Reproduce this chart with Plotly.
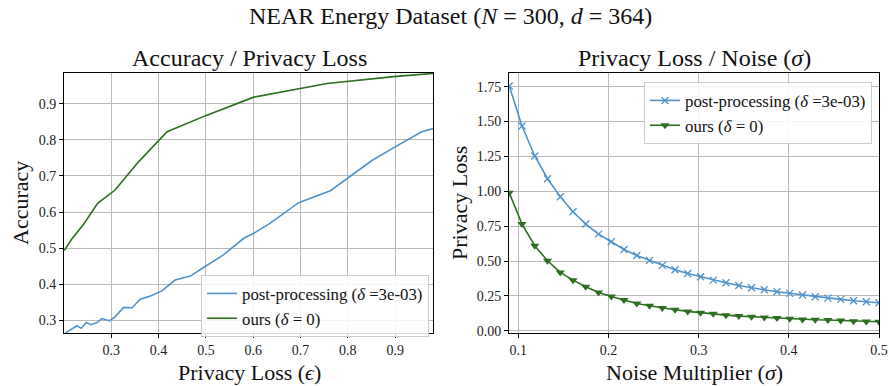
import plotly.graph_objects as go

# ---------------- data ----------------
# Left panel: Accuracy vs privacy loss (epsilon)
eps_ours = [0.2007, 0.217, 0.2415, 0.271, 0.308, 0.358, 0.418, 0.502, 0.601, 0.699, 0.756, 0.897, 0.981]
acc_ours = [0.493, 0.526, 0.566, 0.624, 0.661, 0.740, 0.823, 0.869, 0.919, 0.944, 0.957, 0.976, 0.985]

eps_post = [0.2007, 0.2148, 0.2275, 0.2366, 0.247, 0.257, 0.270, 0.280, 0.296, 0.308, 0.326, 0.344,
            0.361, 0.379, 0.407, 0.435, 0.467, 0.495, 0.537, 0.580, 0.601, 0.636, 0.696, 0.763,
            0.812, 0.851, 0.900, 0.956, 0.981]
acc_post = [0.262, 0.274, 0.284, 0.277, 0.293, 0.287, 0.293, 0.304, 0.298, 0.309, 0.335, 0.334,
            0.358, 0.365, 0.381, 0.411, 0.422, 0.446, 0.481, 0.527, 0.541, 0.569, 0.626, 0.659,
            0.707, 0.743, 0.781, 0.823, 0.832]

# Right panel: privacy loss vs noise multiplier (sigma)
sigma = [0.09, 0.1041, 0.1183, 0.1324, 0.1466, 0.1607, 0.1748, 0.1890, 0.2031, 0.2172,
         0.2314, 0.2455, 0.2597, 0.2738, 0.2879, 0.3021, 0.3162, 0.3303, 0.3445, 0.3586,
         0.3728, 0.3869, 0.4010, 0.4152, 0.4293, 0.4434, 0.4576, 0.4717, 0.4859, 0.5]
loss_post = [1.755, 1.468, 1.253, 1.090, 0.961, 0.853, 0.765, 0.693, 0.638, 0.583,
             0.540, 0.504, 0.469, 0.437, 0.411, 0.387, 0.363, 0.344, 0.325, 0.308,
             0.294, 0.280, 0.268, 0.256, 0.244, 0.234, 0.225, 0.215, 0.208, 0.201]
loss_ours = [0.99, 0.765, 0.610, 0.502, 0.418, 0.363, 0.316, 0.275, 0.246, 0.220,
             0.196, 0.179, 0.163, 0.151, 0.139, 0.129, 0.122, 0.112, 0.105, 0.100,
             0.096, 0.091, 0.086, 0.081, 0.079, 0.077, 0.074, 0.069, 0.067, 0.065]

left_xticks = [0.3, 0.4, 0.5, 0.6, 0.7, 0.8, 0.9]
left_yticks = [0.3, 0.4, 0.5, 0.6, 0.7, 0.8, 0.9]
right_xticks = [0.1, 0.2, 0.3, 0.4, 0.5]
right_yticks = [0.0, 0.25, 0.5, 0.75, 1.0, 1.25, 1.5, 1.75]

BLUE = "#4f93cc"
GREEN = "#2b6f1f"
FONT = "Liberation Serif"
W, H = 889, 386

fig = go.Figure()

fig.add_trace(go.Scatter(x=eps_post, y=acc_post, mode="lines", line=dict(color=BLUE, width=1.6),
                         name="post-processing (<i>δ</i> =3e-03)", xaxis="x", yaxis="y", legend="legend"))
fig.add_trace(go.Scatter(x=eps_ours, y=acc_ours, mode="lines", line=dict(color=GREEN, width=1.6),
                         name="ours (<i>δ</i> = 0)", xaxis="x", yaxis="y", legend="legend"))

fig.add_trace(go.Scatter(x=sigma, y=loss_post, mode="lines+markers", line=dict(color=BLUE, width=1.6),
                         marker=dict(symbol="x-thin", size=7, line=dict(color=BLUE, width=1.3), color=BLUE),
                         name="post-processing (<i>δ</i> =3e-03)", xaxis="x2", yaxis="y2", legend="legend2"))
fig.add_trace(go.Scatter(x=sigma, y=loss_ours, mode="lines+markers", line=dict(color=GREEN, width=1.6),
                         marker=dict(symbol="triangle-down", size=8, color=GREEN),
                         name="ours (<i>δ</i> = 0)", xaxis="x2", yaxis="y2", legend="legend2"))

ydom = [(H - 333) / H, (H - 73) / H]
axcommon = dict(showline=True, linecolor="black", linewidth=1, mirror=True, ticks="outside",
                ticklen=4, tickcolor="black", showgrid=True, gridcolor="#b8b8b8", gridwidth=1,
                zeroline=False, automargin=False, tickfont=dict(family=FONT, size=14, color="#222"))

legfont = dict(family=FONT, size=16.8, color="#111")
fig.update_layout(
    width=W, height=H, margin=dict(l=0, r=0, t=0, b=0, autoexpand=False),
    plot_bgcolor="white", paper_bgcolor="white",
    font=dict(family=FONT, color="#111"),
    xaxis=dict(domain=[64 / W, 433 / W], range=[0.2, 0.98], tickvals=left_xticks,
               anchor="y", **axcommon),
    yaxis=dict(domain=ydom, range=[0.264, 0.986], tickvals=left_yticks, anchor="x", **axcommon),
    xaxis2=dict(domain=[509 / W, 879 / W], range=[0.0897, 0.5], tickvals=right_xticks,
                anchor="y2", **axcommon),
    yaxis2=dict(domain=ydom, range=[-0.016, 1.848], tickvals=right_yticks, tickformat=".2f",
                anchor="x2", **axcommon),
    legend=dict(x=429 / W, y=(H - 275) / H, xanchor="right", yanchor="top",
                bgcolor="rgba(255,255,255,0.85)", bordercolor="#cccccc", borderwidth=1,
                font=legfont, tracegroupgap=0),
    legend2=dict(x=872 / W, y=(H - 82) / H, xanchor="right", yanchor="top",
                 bgcolor="rgba(255,255,255,0.85)", bordercolor="#cccccc", borderwidth=1,
                 font=legfont, tracegroupgap=0),
    showlegend=True,
)

ann = [
    dict(text="NEAR Energy Dataset (<i>N</i> = 300, <i>d</i> = 364)", x=450 / W, y=(H - 16) / H, size=24),
    dict(text="Accuracy / Privacy Loss", x=249 / W, y=(H - 58) / H, size=24),
    dict(text="Privacy Loss / Noise (<i>σ</i>)", x=694 / W, y=(H - 58) / H, size=24),
    dict(text="Privacy Loss (<i>ϵ</i>)", x=249 / W, y=(H - 372) / H, size=22),
    dict(text="Noise Multiplier (<i>σ</i>)", x=694 / W, y=(H - 372) / H, size=22),
]
for a in ann:
    fig.add_annotation(text=a["text"], x=a["x"], y=a["y"], xref="paper", yref="paper",
                       xanchor="center", yanchor="middle", showarrow=False,
                       font=dict(family=FONT, size=a["size"], color="#111"))
fig.add_annotation(text="Accuracy", x=20 / W, y=(H - 203) / H, xref="paper", yref="paper",
                   xanchor="center", yanchor="middle", showarrow=False, textangle=-90,
                   font=dict(family=FONT, size=22, color="#111"))
fig.add_annotation(text="Privacy Loss", x=459 / W, y=(H - 203) / H, xref="paper", yref="paper",
                   xanchor="center", yanchor="middle", showarrow=False, textangle=-90,
                   font=dict(family=FONT, size=22, color="#111"))

fig.write_html("out.html")
